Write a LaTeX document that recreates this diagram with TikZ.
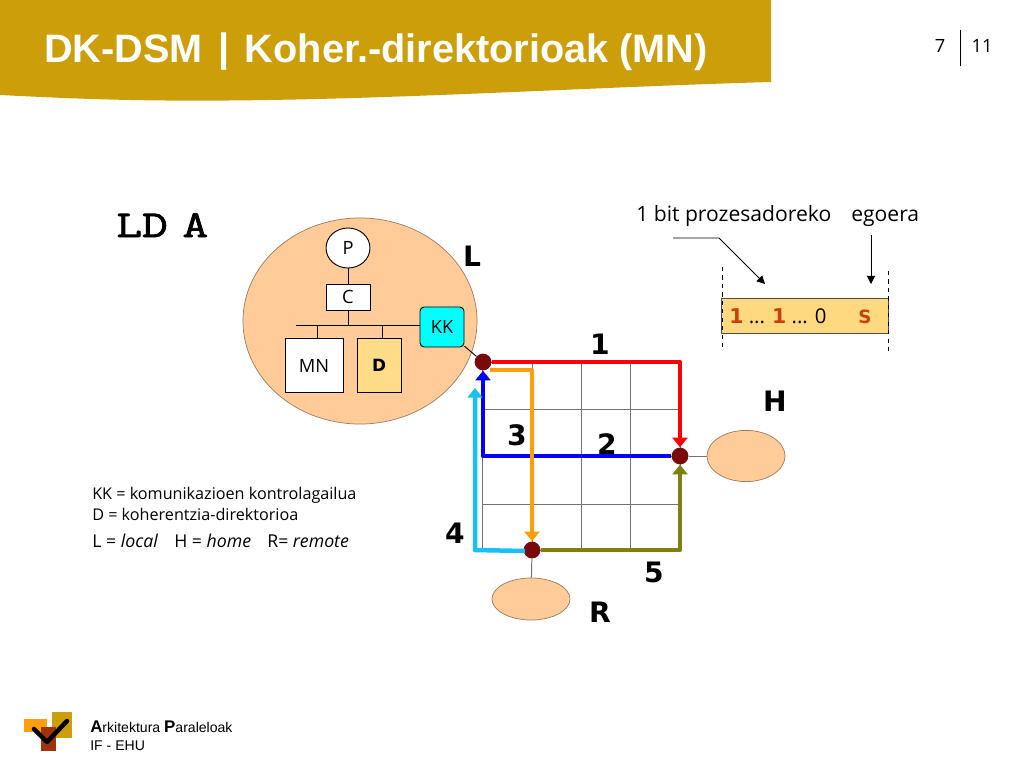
\documentclass[tikz,border=0pt]{standalone}
\usepackage{fontspec}
\setmainfont{Open Sans}
\newfontfamily\arialfont{Liberation Sans}
\newfontfamily\boldfont{DejaVu Sans}
\newfontfamily\loadfont[FakeBold=2, FakeStretch=1.32]{Latin Modern Mono}
\usetikzlibrary{arrows.meta}
\usetikzlibrary{shapes.geometric}
\definecolor{header}{HTML}{CC9E0A}
\definecolor{peach}{HTML}{FFCC99}
\definecolor{dirfill}{HTML}{FFDD88}
\definecolor{barfill}{HTML}{FFD97F}
\definecolor{dotred}{HTML}{7A0A0A}
\definecolor{rust}{HTML}{C84010}
\definecolor{olive5}{HTML}{808010}
\definecolor{sky4}{HTML}{19C0F5}
\definecolor{orange3}{HTML}{FF9E0A}
\definecolor{kkcyan}{HTML}{00FFFF}
\definecolor{rim}{HTML}{9A7B5F}

\begin{document}
\begin{tikzpicture}[x=0.025cm, y=-0.025cm]
\tikzstyle{site} = [ellipse, draw=rim, line width=0.5pt, fill=peach, inner sep=0]
\tikzstyle{unit} = [draw=black, fill=white, inner sep=0, line width=0.65pt]
\tikzstyle{small} = [font=\fontsize{13}{15}\selectfont, inner sep=0]
\tikzstyle{legend} = [font=\fontsize{11.5}{14}\selectfont, anchor=base west, inner sep=0]
\tikzstyle{letter} = [font=\boldfont\bfseries\fontsize{20}{24}\selectfont, inner sep=0]
\tikzstyle{dot} = [circle, fill=dotred, minimum size=0.42cm, inner sep=0]
\tikzstyle{grid line} = [draw=black!55, line width=0.7pt]
\tikzstyle{route} = [line width=3.2pt, -{Triangle[length=0.24cm, width=0.37cm]}, line join=round]
\tikzstyle{wire} = [draw=black, line width=0.65pt]
\tikzstyle{pointer} = [wire, -{Triangle[length=0.2cm, width=0.2cm]}]
\useasboundingbox (0,0) rectangle (1024,768);

\fill[header] (0,0) -- (771,0) -- (771,82) .. controls (560,88) and (330,104) .. (130,100) .. controls (80,99) and (40,97) .. (0,95) -- cycle;
\node[font=\arialfont\bfseries\fontsize{28.2}{30}\selectfont, text=white, anchor=base west, inner sep=0] (title) at (44,63) {DK-DSM\hspace{11pt}\raisebox{1pt}{|}\hspace{11pt}Koher.-direktorioak (MN)};
\node[small] (page) at (940,46) {7};
\node[small] (total) at (982,46) {11};
\coordinate (sepTop) at (960,30);
\coordinate (sepBot) at (960,66);
\draw[wire] (sepTop) -- (sepBot);

\node[font=\loadfont\fontsize{27}{30}\selectfont, anchor=base west, inner sep=0] (load) at (116,237) {LD\hspace{-8pt} A};

\node[site, minimum width=5.85cm, minimum height=5.15cm] (L site) at (360,321) {};
\node[site, minimum width=1.95cm, minimum height=1.28cm] (H site) at (746,456) {};
\node[site, minimum width=1.95cm, minimum height=1.05cm] (R site) at (531,599) {};

\node[unit, small, ellipse, minimum width=1.1cm, minimum height=1cm] (P) at (348,248) {P};
\node[unit, small, minimum width=1.1cm, minimum height=0.65cm] (C) at (348,297) {C};
\node[unit, small, minimum width=1.45cm, minimum height=1.33cm] (MN) at (314,365.5) {MN};
\node[unit, minimum width=1.1cm, minimum height=1.33cm, fill=dirfill, font=\boldfont\bfseries\fontsize{12}{14}\selectfont] (D) at (379,365.5) {D};
\node[unit, small, rectangle, rounded corners=3pt, minimum width=1.1cm, minimum height=1cm, fill=kkcyan] (KK) at (442,327) {KK};

\coordinate (bus west) at (296,325);
\coordinate (bus C) at (348,325);
\coordinate (bus MN) at (317,325);
\coordinate (bus D) at (382,325);

\draw[wire] (P) -- (C);
\draw[wire] (C) -- (bus C);
\draw[wire] (bus west) -- (bus west -| KK.west);
\draw[wire] (bus MN) -- (bus MN |- MN.north);
\draw[wire] (bus D) -- (bus D |- D.north);

\foreach \gx in {482,532,581,630.5,680}
  \draw[grid line] (\gx,362) -- (\gx,550);
\foreach \gy in {362,409,456,504,550}
  \draw[grid line] (482,\gy) -- (680,\gy);

\node[dot] (nL) at (483,362) {};
\node[dot] (nH) at (680,456) {};
\node[dot] (nR) at (532,550) {};

\draw[wire] (KK) -- (nL);
\draw[grid line] (nH) -- (H site);
\draw[grid line] (nR) -- (R site);

\coordinate (orange start) at (490,370);
\coordinate (sky start) at (525,551);
\coordinate (sky corner) at (475,550);
\coordinate (sky end) at (475,388);

\draw[route, red] (nL) -| (nH);
\draw[route, blue] (nH) -| (nL);
\draw[route, orange3] (orange start) -| (nR);
\draw[route, sky4] (sky start) -- (sky corner) -- (sky end);
\draw[route, olive5] (nR) -| (nH);

\node[letter] (L) at (472,256) {L};
\node[letter] (H) at (775,401) {H};
\node[letter] (R) at (600,612) {R};
\node[letter] (n1) at (600,344) {1};
\node[letter] (n2) at (607,444) {2};
\node[letter] (n3) at (517,435) {3};
\node[letter] (n4) at (455,533) {4};
\node[letter] (n5) at (654,572) {5};

\node[draw=black!70, fill=barfill, line width=0.7pt, minimum width=4.15cm, minimum height=0.875cm, inner sep=0] (bar) at (805,315.5) {};
\node[font=\fontsize{14.5}{16}\selectfont, anchor=base west, inner sep=0] (bits) at (729,323) {\textcolor{rust}{\boldfont\bfseries 1} ... \textcolor{rust}{\boldfont\bfseries 1} ... 0};
\node[anchor=base, inner sep=0, text=rust, font=\boldfont\bfseries\fontsize{13}{15}\selectfont] (state) at (865,323) {S};

\coordinate (dashA top) at (722,267);
\coordinate (dashA bot) at (722,350);
\coordinate (dashB top) at (888,271);
\coordinate (dashB bot) at (888,355);
\draw[wire, dashed] (dashA top) -- (dashA bot);
\draw[wire, dashed] (dashB top) -- (dashB bot);

\node[font=\fontsize{15}{18}\selectfont, anchor=base west, inner sep=0] (bit label) at (636,221) {1 bit prozesadoreko};
\node[font=\fontsize{15}{18}\selectfont, anchor=base west, inner sep=0] (state label) at (851,221) {egoera};

\coordinate (bit start) at (673,238);
\coordinate (bit bend) at (719,238);
\coordinate (bit end) at (765,284);
\coordinate (state start) at (871,235);
\coordinate (state end) at (871,284);
\draw[pointer] (bit start) -- (bit bend) -- (bit end);
\draw[pointer] (state start) -- (state end);

\node[legend] (leg1) at (92,499) {KK = komunikazioen kontrolagailua};
\node[legend] (leg2) at (92,520) {D = koherentzia-direktorioa};
\node[legend, font=\fontsize{12.6}{14}\selectfont] (leg3) at (92,547) {L = \textit{local}\hspace{11.5pt}H = \textit{home}\hspace{11.5pt}R= \textit{remote}};

\fill[orange3] (24,719) rectangle (47,732);
\fill[header] (52,712) rectangle (72,738);
\fill[rust!80!black] (41,727) rectangle (56,751);
\draw[line width=3.2pt, line cap=round, line join=round] (34,729) -- (47,742) -- (67,721);

\node[font=\arialfont\fontsize{10}{12}\selectfont, anchor=base west, inner sep=0] (foot1) at (90,732) {{\fontsize{12}{12}\selectfont\bfseries A}rkitektura {\fontsize{12}{12}\selectfont\bfseries P}araleloak};
\node[font=\arialfont\fontsize{10}{12}\selectfont, anchor=base west, inner sep=0] (foot2) at (90,750) {IF - EHU};
\end{tikzpicture}
\end{document}
